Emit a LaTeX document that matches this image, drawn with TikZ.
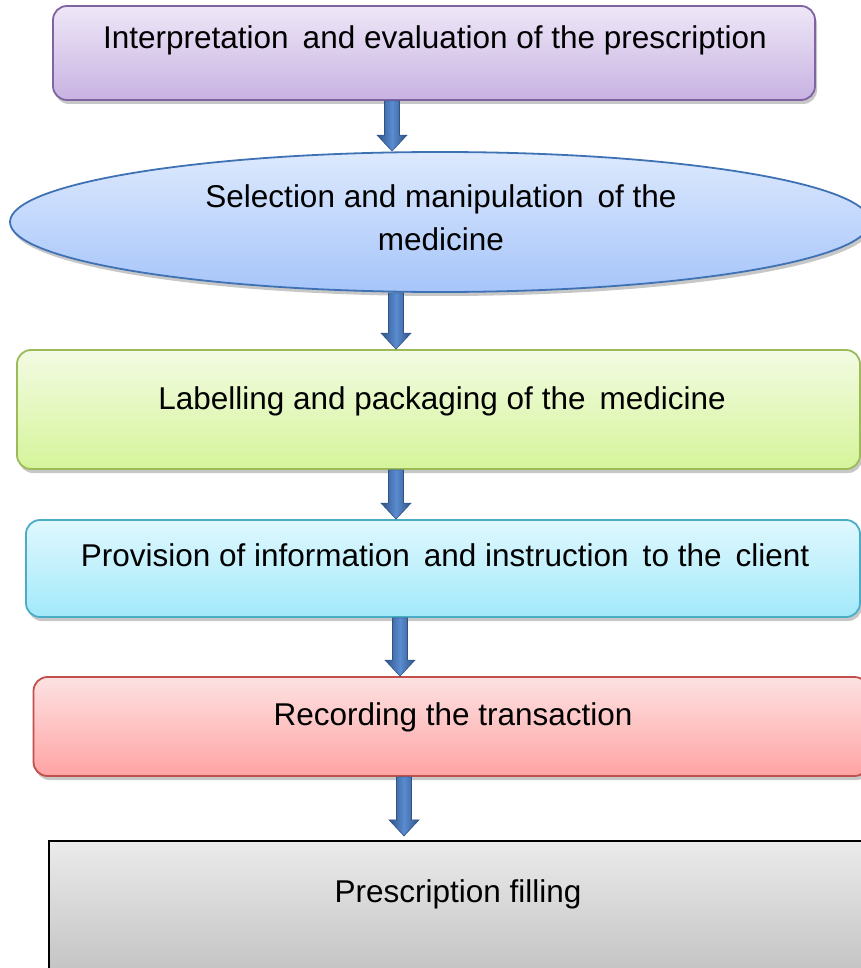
\documentclass[tikz,border=0pt]{standalone}
\usepackage{fontspec}
\setmainfont{Liberation Sans}
\usetikzlibrary{shapes.geometric,shadows,calc}

\definecolor{purpleA}{HTML}{EEE7F7}
\definecolor{purpleB}{HTML}{C8B2E2}
\definecolor{purpleE}{HTML}{8064A2}
\definecolor{blueA}{HTML}{DDE9FD}
\definecolor{blueB}{HTML}{A6C5FA}
\definecolor{blueE}{HTML}{3F72B5}
\definecolor{greenA}{HTML}{F3FBE3}
\definecolor{greenB}{HTML}{D5F49A}
\definecolor{greenE}{HTML}{9BBB59}
\definecolor{cyanA}{HTML}{E0F8FE}
\definecolor{cyanB}{HTML}{A2E9FA}
\definecolor{cyanE}{HTML}{4BACC6}
\definecolor{redA}{HTML}{FDE2E2}
\definecolor{redB}{HTML}{FFA3A3}
\definecolor{redE}{HTML}{C0504D}
\definecolor{grayA}{HTML}{EBEBEB}
\definecolor{grayB}{HTML}{BEBEBE}
\definecolor{arrowDark}{HTML}{2F5386}
\definecolor{arrowLight}{HTML}{5A8CD0}

\tikzset{
  softshadow/.style={drop shadow={shadow xshift=2pt,shadow yshift=-4pt,opacity=0.22,fill=black}},
  stagebox/.style={rectangle,rounded corners=14pt,line width=1.8pt,inner sep=0pt,softshadow},
  label text/.style={font=\fontsize{31.5}{37}\selectfont,inner sep=0pt,anchor=base,text=black},
}

% Block arrow from one named coordinate straight down to another
\newcommand\blockarrow[2]{%
  \path let \p1=(#1), \p2=(#2) in
    [left color=arrowDark,right color=arrowDark,middle color=arrowLight,
     draw=arrowDark,line width=0.6pt,line join=miter]
    (\x1-7.5pt,\y1) -- (\x1+7.5pt,\y1) -- (\x1+7.5pt,\y2+16pt) -- (\x1+15pt,\y2+16pt)
    -- (\x1,\y2) -- (\x1-15pt,\y2+16pt) -- (\x1-7.5pt,\y2+16pt) -- cycle;}

\begin{document}
\begin{tikzpicture}[x=1pt,y=-1pt]
\useasboundingbox (0,0) rectangle (861,968);

% stages
\node[stagebox,draw=purpleE,top color=purpleA,bottom color=purpleB,
      minimum width=762pt,minimum height=94pt] (b1) at (434,53) {};
\node[ellipse,line width=1.8pt,inner sep=0pt,softshadow,draw=blueE,
      top color=blueA,bottom color=blueB,
      minimum width=860pt,minimum height=140pt] (b2) at (440,222) {};
\node[stagebox,draw=greenE,top color=greenA,bottom color=greenB,
      minimum width=843pt,minimum height=119pt] (b3) at (438.5,409.5) {};
\node[stagebox,draw=cyanE,top color=cyanA,bottom color=cyanB,
      minimum width=834pt,minimum height=97pt] (b4) at (443,568.5) {};
\node[stagebox,draw=redE,top color=redA,bottom color=redB,
      minimum width=835pt,minimum height=99pt] (b5) at (451,726.5) {};
\node[rectangle,inner sep=0pt,line width=2.2pt,draw=black,top color=grayA,bottom color=grayB,
      minimum width=840pt,minimum height=150pt] (b6) at (469,916) {};

% texts
\node[label text] (t1) at (435,49) {Interpretation\, and evaluation of the prescription};
\node[label text] (t2a) at (441,208) {Selection and manipulation\, of the};
\node[label text] (t2b) at (441,251) {medicine};
\node[label text] (t3) at (442,409) {Labelling and packaging of the\, medicine};
\node[label text] (t4) at (445,566) {Provision of information\, and instruction\, to the\, client};
\node[label text] (t5) at (453,725) {Recording the transaction};
\node[label text] (t6) at (458,902) {Prescription filling};

% arrow end points
\coordinate (a1s) at ($(b1.south)+(-42,0)$);
\coordinate (a1e) at (a1s |- b2.north);
\coordinate (a2s) at ($(b2.south)+(-44,0)$);
\coordinate (a2e) at (a2s |- b3.north);
\coordinate (a3s) at ($(b3.south)+(-42.5,0)$);
\coordinate (a3e) at (a3s |- b4.north);
\coordinate (a4s) at ($(b4.south)+(-43,0)$);
\coordinate (a4e) at (a4s |- b5.north);
\coordinate (a5s) at ($(b5.south)+(-47,0)$);
\coordinate (a5e) at ($(a5s |- b6.north)+(0,-4)$);

\blockarrow{a1s}{a1e}
\blockarrow{a2s}{a2e}
\blockarrow{a3s}{a3e}
\blockarrow{a4s}{a4e}
\blockarrow{a5s}{a5e}
\end{tikzpicture}
\end{document}
